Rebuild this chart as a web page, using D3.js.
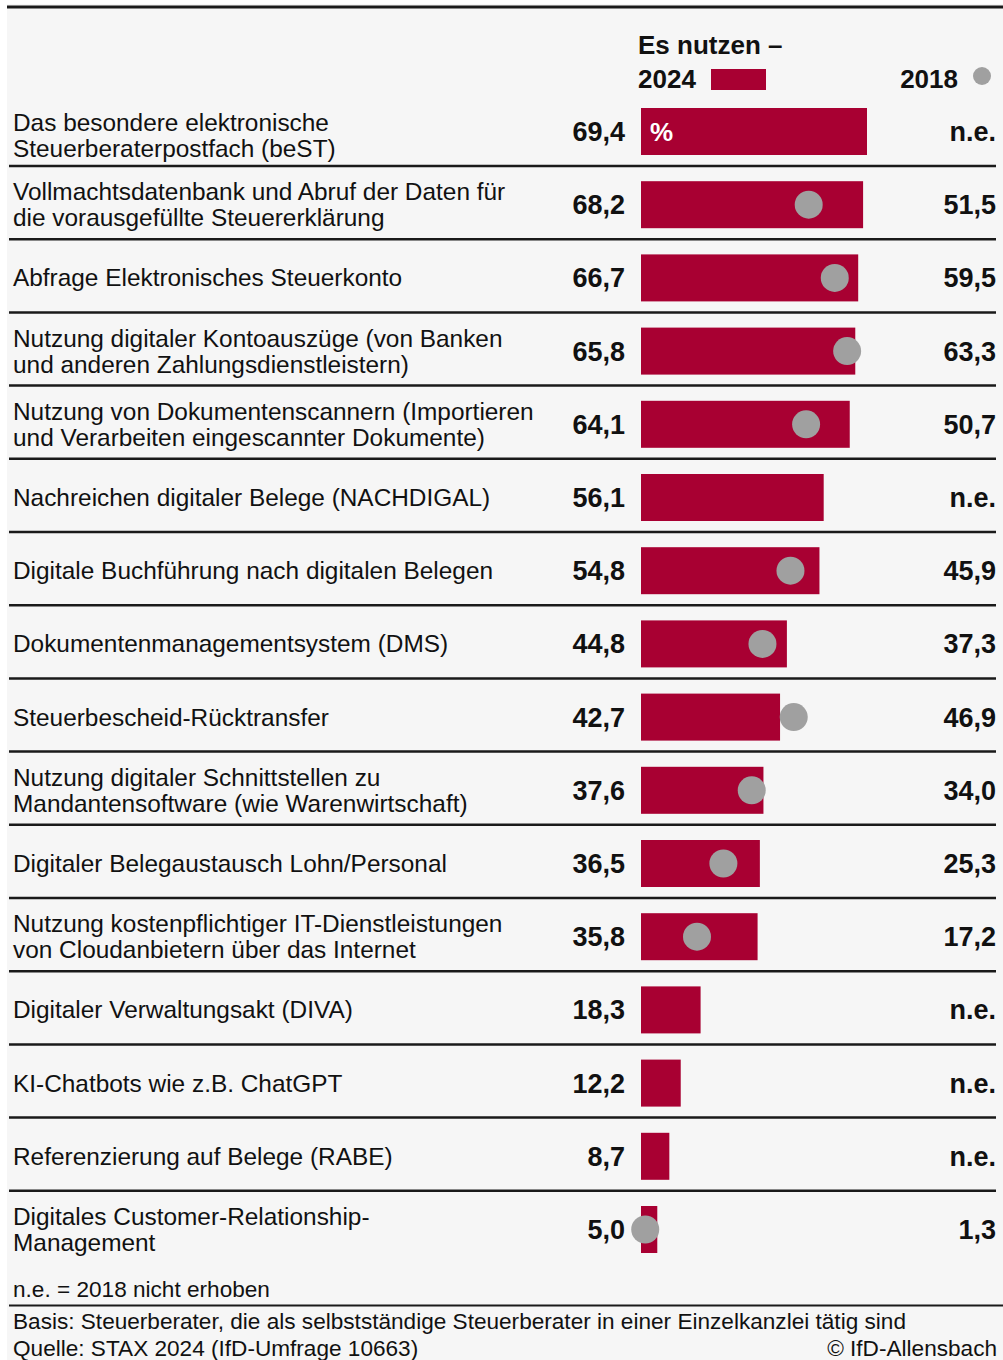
<!DOCTYPE html>
<html>
<head>
<meta charset="utf-8">
<script src="https://cdn.jsdelivr.net/npm/d3@7"></script>
<style>
  html, body { margin: 0; padding: 0; background: #fff; }
  svg { display: block; font-family: "Liberation Sans", Arial, sans-serif; }
</style>
</head>
<body>
<svg id="chart" width="1003" height="1360"></svg>
<script>
// Labels (line breaks as in the original)
const labels = [
  ['Das besondere elektronische', 'Steuerberaterpostfach (beST)'],
  ['Vollmachtsdatenbank und Abruf der Daten für', 'die vorausgefüllte Steuererklärung'],
  ['Abfrage Elektronisches Steuerkonto'],
  ['Nutzung digitaler Kontoauszüge (von Banken', 'und anderen Zahlungsdienstleistern)'],
  ['Nutzung von Dokumentenscannern (Importieren', 'und Verarbeiten eingescannter Dokumente)'],
  ['Nachreichen digitaler Belege (NACHDIGAL)'],
  ['Digitale Buchführung nach digitalen Belegen'],
  ['Dokumentenmanagementsystem (DMS)'],
  ['Steuerbescheid-Rücktransfer'],
  ['Nutzung digitaler Schnittstellen zu', 'Mandantensoftware (wie Warenwirtschaft)'],
  ['Digitaler Belegaustausch Lohn/Personal'],
  ['Nutzung kostenpflichtiger IT-Dienstleistungen', 'von Cloudanbietern über das Internet'],
  ['Digitaler Verwaltungsakt (DIVA)'],
  ['KI-Chatbots wie z.B. ChatGPT'],
  ['Referenzierung auf Belege (RABE)'],
  ['Digitales Customer-Relationship-', 'Management'],
];
// Es nutzen 2024 (%)
const values2024 = [69.4, 68.2, 66.7, 65.8, 64.1, 56.1, 54.8, 44.8, 42.7, 37.6, 36.5, 35.8, 18.3, 12.2, 8.7, 5.0];
// 2018 (%), null = nicht erhoben
const values2018 = [null, 51.5, 59.5, 63.3, 50.7, null, 45.9, 37.3, 46.9, 34.0, 25.3, 17.2, null, null, null, 1.3];

const footnote = 'n.e. = 2018 nicht erhoben';
const basis = 'Basis: Steuerberater, die als selbstständige Steuerberater in einer Einzelkanzlei tätig sind';
const source = 'Quelle: STAX 2024 (IfD-Umfrage 10663)';
const copyright = '© IfD-Allensbach';

// Settings
const bar_color = '#a80032';
const dot_color = '#a0a0a0';
const line_color = '#1a1a1a';
const rows = d3.range(labels.length);

const fmt = (v) => d3.format('.1f')(v).replace('.', ',');

const svg = d3.select('#chart');

// background panel
svg.append('rect')
  .attr('x', 7).attr('y', 4)
  .attr('width', 996).attr('height', 1356)
  .attr('fill', '#f6f6f6');
svg.append('line')
  .attr('x1', 7).attr('x2', 1003).attr('y1', 7).attr('y2', 7)
  .attr('stroke', line_color).attr('stroke-width', 3);

// Scales
const x = d3.scaleLinear().domain([0, 69.4]).range([641, 867]);
const y = d3.scaleBand().domain(rows).range([108, 108 + 73.2 * rows.length]);
const bar_h = 47;
const cy = (i) => y(i) + bar_h / 2;

// Header
const head = svg.append('g').attr('font-weight', 'bold').attr('font-size', 26).attr('fill', '#111');
head.append('text').attr('x', 638).attr('y', 54).text('Es nutzen –');
head.append('text').attr('x', 638).attr('y', 88).text('2024');
head.append('rect').attr('x', 711).attr('y', 69).attr('width', 55).attr('height', 21).attr('fill', bar_color);
head.append('text').attr('x', 958).attr('y', 88).attr('text-anchor', 'end').text('2018');
head.append('circle').attr('cx', 982).attr('cy', 76).attr('r', 9).attr('fill', dot_color);

// Row separators
svg.append('g').selectAll('line')
  .data(rows.slice(0, -1))
  .enter()
  .append('line')
  .attr('x1', 9).attr('x2', 996)
  .attr('y1', (i) => y(i) + 58).attr('y2', (i) => y(i) + 58)
  .attr('stroke', line_color).attr('stroke-width', 2.5);

// Labels
const lab = svg.append('g').attr('font-size', 24.4).attr('fill', '#111');
rows.forEach((i) => {
  const lines = labels[i];
  const shift = i === 0 ? 4 : 0;
  const t = lab.append('text').attr('x', 13);
  lines.forEach((l, k) => {
    t.append('tspan')
      .attr('x', 13)
      .attr('y', cy(i) + shift + (k - (lines.length - 1) / 2) * 26)
      .attr('dy', '0.35em')
      .text(l);
  });
});

// Bars
svg.append('g').selectAll('rect')
  .data(rows)
  .enter()
  .append('rect')
  .attr('x', x(0))
  .attr('y', (i) => y(i))
  .attr('width', (i) => x(values2024[i]) - x(0))
  .attr('height', bar_h)
  .attr('fill', bar_color);

svg.append('text')
  .attr('x', 650).attr('y', cy(0)).attr('dy', '0.35em')
  .attr('font-size', 26).attr('font-weight', 'bold').attr('fill', '#fff')
  .text('%');

// 2018 dots
svg.append('g').selectAll('circle')
  .data(rows.filter((i) => values2018[i] !== null))
  .enter()
  .append('circle')
  .attr('cx', (i) => x(values2018[i]))
  .attr('cy', cy)
  .attr('r', 14)
  .attr('fill', dot_color);

// Values
const vals = svg.append('g').attr('font-size', 27).attr('font-weight', 'bold').attr('fill', '#111');
vals.selectAll('text.v24')
  .data(rows)
  .enter()
  .append('text')
  .attr('class', 'v24')
  .attr('x', 625).attr('y', cy).attr('dy', '0.35em')
  .attr('text-anchor', 'end')
  .text((i) => fmt(values2024[i]));
vals.selectAll('text.v18')
  .data(rows)
  .enter()
  .append('text')
  .attr('class', 'v18')
  .attr('x', 996).attr('y', cy).attr('dy', '0.35em')
  .attr('text-anchor', 'end')
  .text((i) => (values2018[i] === null ? 'n.e.' : fmt(values2018[i])));

// Footer
const foot = svg.append('g').attr('font-size', 22.6).attr('fill', '#111');
foot.append('text').attr('x', 13).attr('y', 1297).text(footnote);
svg.append('line')
  .attr('x1', 9).attr('x2', 1003).attr('y1', 1305.5).attr('y2', 1305.5)
  .attr('stroke', line_color).attr('stroke-width', 2);
foot.append('text').attr('x', 13).attr('y', 1329).text(basis);
foot.append('text').attr('x', 13).attr('y', 1356).text(source);
foot.append('text').attr('x', 997).attr('y', 1356).attr('text-anchor', 'end').text(copyright);
</script>
</body>
</html>
